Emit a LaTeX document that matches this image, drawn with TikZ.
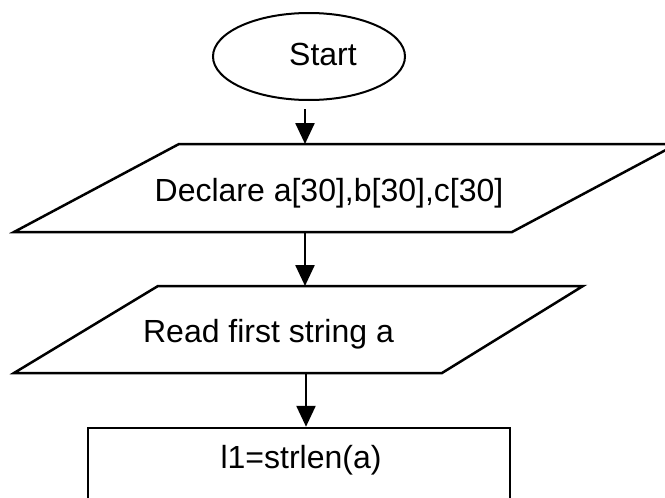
\documentclass[tikz,border=0pt]{standalone}
\usepackage{fontspec}
\setmainfont{Liberation Sans}
\usetikzlibrary{arrows.meta,shapes.geometric}
\begin{document}
\begin{tikzpicture}[x=1pt,y=-1pt,
  outline/.style={draw=black, line width=2.5pt},
  label text/.style={font=\fontsize{32}{38}\selectfont, inner sep=0pt, anchor=base},
  flow/.style={line width=2.5pt, -{Triangle[length=21pt,width=19pt]}},
]
\useasboundingbox (0,0) rectangle (665,498);
\clip (0,0) rectangle (665,498);

% terminal
\node[ellipse, draw, line width=2pt, minimum width=192pt, minimum height=87pt, inner sep=0pt] (start) at (309,56.5) {};
\node[label text] (starttext) at (323,65) {Start};

% declaration (input/output)
\draw[outline] (14,232) -- (179,144) -- (677,144) -- (512,232) -- cycle;
\coordinate (decltop) at (305,144);
\coordinate (declbot) at (305,232);
\node[label text] (decltext) at (329,201) {Declare a[30],b[30],c[30]};

% read (input/output)
\draw[outline] (14,373) -- (158,286) -- (583,286) -- (442,373) -- cycle;
\coordinate (readtop) at (305,286);
\coordinate (readbot) at (306,373);
\node[label text] (readtext) at (268.5,342) {Read first string a};

% process
\node[outline, minimum width=422pt, minimum height=100pt, inner sep=0pt] (proc) at (299,478) {};
\node[label text] (proctext) at (301,468) {l1=strlen(a)};

% connectors
\draw[flow, shorten <=8pt] (start.south -| decltop) -- (decltop);
\draw[flow] (declbot) -- (readtop);
\draw[flow] (readbot) -- (proc.north -| readbot);
\end{tikzpicture}
\end{document}
